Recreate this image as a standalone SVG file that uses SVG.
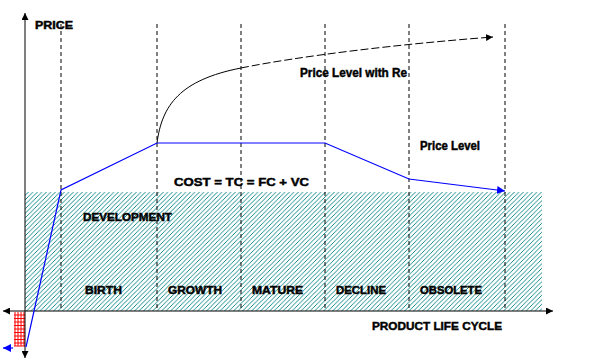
<svg xmlns="http://www.w3.org/2000/svg" width="614" height="362" viewBox="0 0 614 362">
<style>
.lbl{font-family:"Liberation Sans",Arial,sans-serif;font-weight:bold;font-size:11.5px;fill:#000;stroke:#000;stroke-width:0.45}
.vd{stroke:#000;stroke-width:1;stroke-dasharray:4,3;fill:none}
.ax{stroke:#000;stroke-width:1;fill:none}
.bl{stroke:#0000FF;stroke-width:1.2;fill:none}
</style>
<defs>
<pattern id="hatch" patternUnits="userSpaceOnUse" width="4.5" height="4.5">
<path d="M-1,1 L1,-1 M0,4.5 L4.5,0 M3.5,5.5 L5.5,3.5" stroke="#008080" stroke-width="0.9"/>
</pattern>
<marker id="ab" viewBox="0 0 10 10" refX="10" refY="5" markerWidth="7" markerHeight="7" markerUnits="userSpaceOnUse" orient="auto">
<path d="M0,0 L10,5 L0,10 Z" fill="#000"/>
</marker>
<marker id="abl" viewBox="0 0 10 10" refX="10" refY="5" markerWidth="8" markerHeight="8" markerUnits="userSpaceOnUse" orient="auto">
<path d="M0,0 L10,5 L0,10 Z" fill="#0000FF"/>
</marker>
</defs>
<rect width="614" height="362" fill="#fff"/>
<g id="hatched-area">
<rect x="25" y="192" width="517" height="119" fill="url(#hatch)"/>
</g>
<g id="red-grid" stroke="#FF0000" stroke-width="1">
<path d="M15,312 V346 M18,312 V346 M21,312 V346 M24,312 V346 M14,315 H25 M14,318.5 H25 M14,322 H25 M14,325.5 H25 M14,329 H25 M14,332.5 H25 M14,336 H25 M14,339.5 H25 M14,343 H25 M14,346 H25"/>
</g>
<g id="phase-dividers">
<line class="vd" x1="61" y1="24" x2="61" y2="311"/>
<line class="vd" x1="157" y1="24" x2="157" y2="311"/>
<line class="vd" x1="241" y1="24" x2="241" y2="311"/>
<line class="vd" x1="325" y1="24" x2="325" y2="311"/>
<line class="vd" x1="409" y1="24" x2="409" y2="311"/>
<line class="vd" x1="505" y1="24" x2="505" y2="311"/>
</g>
<g id="axes">
<line class="ax" x1="25" y1="311" x2="25" y2="13" marker-end="url(#ab)"/>
<line class="ax" x1="25" y1="311" x2="25" y2="358" marker-end="url(#ab)"/>
<line class="ax" x1="25" y1="311" x2="553" y2="311" marker-end="url(#ab)"/>
<line class="ax" x1="25" y1="311" x2="3" y2="311" marker-end="url(#ab)"/>
</g>
<g id="connectors">
<polyline class="bl" points="26,347 61,190 157,143 325,143 409,179 505,191" marker-end="url(#abl)"/>
<line class="bl" x1="13" y1="348" x2="3" y2="348" marker-end="url(#abl)"/>
<path d="M157,143 C162,105 180,80 241,68" stroke="#000" stroke-width="1" fill="none"/>
<path d="M241,68 C300,56 400,44 493,37" stroke="#000" stroke-width="1" fill="none" stroke-dasharray="8,3" marker-end="url(#ab)"/>
</g>
<g id="axis-labels">
<text class="lbl" x="35" y="29" textLength="38" lengthAdjust="spacingAndGlyphs" style="font-size:10.5px">PRICE</text>
<text class="lbl" x="372" y="330" textLength="130" lengthAdjust="spacingAndGlyphs">PRODUCT LIFE CYCLE</text>
</g>
<g id="curve-labels">
<text class="lbl" x="300" y="77" textLength="107" lengthAdjust="spacingAndGlyphs" style="font-size:12px">Price Level with Re</text>
<text class="lbl" x="420" y="150" textLength="60" lengthAdjust="spacingAndGlyphs" style="font-size:12px">Price Level</text>
<text class="lbl" x="174" y="186" textLength="135" lengthAdjust="spacingAndGlyphs">COST = TC = FC + VC</text>
</g>
<g id="phase-labels">
<text class="lbl" x="83" y="221" textLength="89" lengthAdjust="spacingAndGlyphs">DEVELOPMENT</text>
<text class="lbl" x="85" y="294" textLength="37" lengthAdjust="spacingAndGlyphs">BIRTH</text>
<text class="lbl" x="168" y="294" textLength="54" lengthAdjust="spacingAndGlyphs">GROWTH</text>
<text class="lbl" x="252" y="294" textLength="51" lengthAdjust="spacingAndGlyphs">MATURE</text>
<text class="lbl" x="336" y="294" textLength="50" lengthAdjust="spacingAndGlyphs">DECLINE</text>
<text class="lbl" x="420" y="294" textLength="62" lengthAdjust="spacingAndGlyphs">OBSOLETE</text>
</g>
</svg>
